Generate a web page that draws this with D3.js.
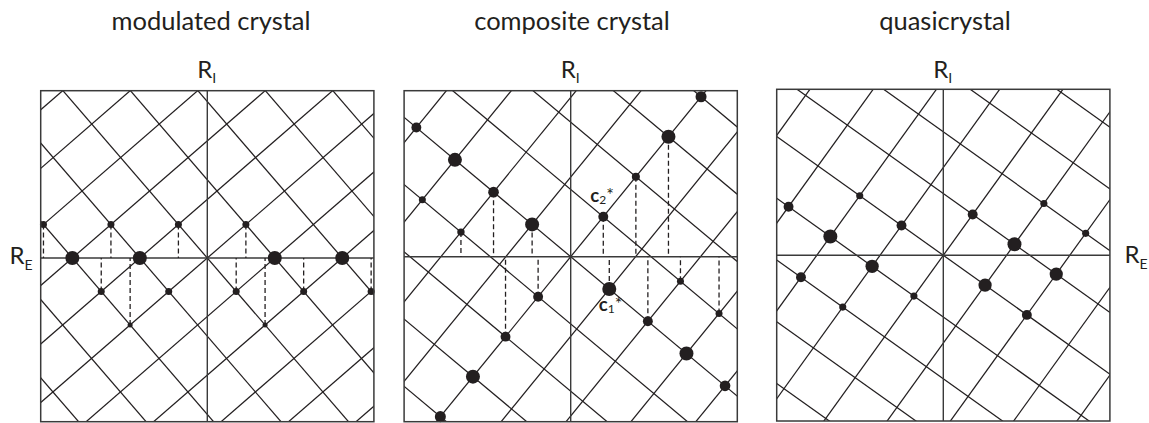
<!DOCTYPE html>
<html>
<head>
<meta charset="utf-8">
<script src="https://cdn.jsdelivr.net/npm/d3@7"></script>
<style>
  html, body { margin: 0; padding: 0; background: #fff; }
  svg { display: block; }
  text { font-family: Lato, "Open Sans", sans-serif; fill: #231f20; }
</style>
</head>
<body>
<svg id="chart" width="1149" height="423"></svg>
<script>
// ---- data -------------------------------------------------------------
// panel titles
const titles = ["modulated crystal", "composite crystal", "quasicrystal"];

// reciprocal basis vectors (R_E, R_I) in lattice units, one pair per panel
const basisModulated = [[1.158, 1.005], [0.867, -1.005]];
const basisComposite = [[1.158, -0.969], [0.978, 1.200]];
const basisQuasi     = [[1.254, -0.894], [0.882, 1.224]];

// reflections: [m, n, relative intensity, projection line to R_E (1/0)]
const reflModulated = [
  [1, 1, 1.0, 0], [2, 2, 1.0, 0], [-1, -1, 1.0, 0], [-2, -2, 1.0, 0],
  [1, 0, 0.25, 1], [0, -1, 0.25, 1], [-1, -2, 0.25, 1], [-2, -3, 0.25, 1],
  [0, 1, 0.25, 1], [-1, 0, 0.25, 0], [1, 2, 0.25, 1], [2, 3, 0.25, 1], [-2, -1, 0.25, 1],
  [0, 2, 0.13, 1], [-2, 0, 0.13, 1]
];
const reflComposite = [
  [1, 0, 1.0, 1], [2, 0, 0.5, 1], [3, 0, 1.0, 0], [4, 0, 0.58, 0],
  [-1, 0, 1.0, 1], [-2, 0, 0.58, 1], [-3, 0, 1.0, 0], [-4, 0, 0.5, 0],
  [0, 1, 0.5, 1], [0, 2, 0.33, 1], [0, 3, 1.0, 1], [0, 4, 0.62, 0],
  [0, -1, 0.5, 1], [0, -2, 0.5, 1], [0, -3, 1.0, 0], [0, -4, 0.62, 0],
  [2, 1, 0.25, 1], [3, 1, 0.25, 1], [-2, -1, 0.28, 1], [-3, -1, 0.25, 0]
];
const reflQuasi = [
  [1, 0, 0.9, 0], [-1, 0, 0.5, 0], [0, 1, 0.5, 0], [0, -1, 0.26, 0],
  [1, 1, 1.0, 0], [-1, -1, 0.9, 0], [2, 0, 0.5, 0], [-2, 0, 0.26, 0],
  [1, 2, 0.26, 0], [2, 2, 0.26, 0], [2, 1, 0.9, 0], [-3, -1, 0.5, 0],
  [-2, -1, 1.0, 0], [-2, -2, 0.5, 0], [-1, -2, 0.26, 0]
];

// labelled basis vectors of the composite panel: [m, n, symbol, index]
const vectorLabels = [[0, 1, "c", "2"], [1, 0, "c", "1"]];

// ---- layout -----------------------------------------------------------
const ink = "#231f20";
const half = 166.6;                 // half width of a panel frame in px
const panels = [
  { ox: 207.3, oy: 258.0, top: 90.7, bottom: 421.7, tx: 211, basis: basisModulated, refl: reflModulated },
  { ox: 570.7, oy: 256.7, top: 90.7, bottom: 421.7, tx: 572, basis: basisComposite, refl: reflComposite },
  { ox: 943.3, oy: 255.3, top: 89.3, bottom: 421.0, tx: 945, basis: basisQuasi, refl: reflQuasi }
];

const svg = d3.select("#chart");
const rScale = d3.scaleSqrt().domain([0, 1]).range([0, 7]);

panels.forEach((p, i) => {
  const x = d3.scaleLinear().domain([-5, 5]).range([p.ox - half, p.ox + half]);
  const y = d3.scaleLinear().domain([-5, 5]).range([p.oy + half, p.oy - half]);
  const [u, v] = p.basis;
  const pt = (m, n) => [m * u[0] + n * v[0], m * u[1] + n * v[1]];

  const g = svg.append("g");
  const clipId = "clip" + i;
  svg.append("clipPath").attr("id", clipId)
    .append("rect")
    .attr("x", x(-5)).attr("y", p.top)
    .attr("width", x(5) - x(-5)).attr("height", p.bottom - p.top);

  // lattice rows: lines along u through n*v and along v through m*u
  const idx = d3.range(-9, 10);
  const L = 14;
  const lines = [];
  idx.forEach(n => {
    const c = pt(0, n);
    lines.push([[c[0] - L * u[0], c[1] - L * u[1]], [c[0] + L * u[0], c[1] + L * u[1]]]);
  });
  idx.forEach(m => {
    const c = pt(m, 0);
    lines.push([[c[0] - L * v[0], c[1] - L * v[1]], [c[0] + L * v[0], c[1] + L * v[1]]]);
  });
  const gl = g.append("g").attr("clip-path", `url(#${clipId})`);
  gl.selectAll("line.lat").data(lines).join("line")
    .attr("class", "lat")
    .attr("x1", d => x(d[0][0])).attr("y1", d => y(d[0][1]))
    .attr("x2", d => x(d[1][0])).attr("y2", d => y(d[1][1]))
    .attr("stroke", ink).attr("stroke-width", 1.25);

  // physical (R_E) and internal (R_I) axes
  gl.append("line")
    .attr("x1", x(-5)).attr("x2", x(5)).attr("y1", y(0)).attr("y2", y(0))
    .attr("stroke", "#3a3a3a").attr("stroke-width", 1.4);
  gl.append("line")
    .attr("x1", x(0)).attr("x2", x(0)).attr("y1", p.top).attr("y2", p.bottom)
    .attr("stroke", "#3a3a3a").attr("stroke-width", 1.4);

  // projections of reflections onto R_E
  gl.selectAll("line.proj").data(p.refl.filter(d => d[3])).join("line")
    .attr("class", "proj")
    .attr("x1", d => x(pt(d[0], d[1])[0])).attr("x2", d => x(pt(d[0], d[1])[0]))
    .attr("y1", d => y(pt(d[0], d[1])[1])).attr("y2", y(0))
    .attr("stroke", ink).attr("stroke-width", 1.3)
    .attr("stroke-dasharray", "5,3");

  // reflections
  g.selectAll("circle").data(p.refl).join("circle")
    .attr("cx", d => x(pt(d[0], d[1])[0]))
    .attr("cy", d => y(pt(d[0], d[1])[1]))
    .attr("r", d => rScale(d[2]))
    .attr("fill", ink);

  // frame
  g.append("rect")
    .attr("x", x(-5)).attr("y", p.top)
    .attr("width", x(5) - x(-5)).attr("height", p.bottom - p.top)
    .attr("fill", "none").attr("stroke", "#3a3a3a").attr("stroke-width", 1.5);

  // title
  svg.append("text")
    .attr("x", p.tx).attr("y", 30)
    .attr("text-anchor", "middle")
    .attr("font-size", 25.5)
    .text(titles[i]);

  // R_I label
  const ri = svg.append("text")
    .attr("x", p.ox - 10).attr("y", 77.5)
    .attr("font-size", 24);
  ri.append("tspan").text("R");
  ri.append("tspan").attr("font-size", 14).attr("dy", 5).text("I");

  // vector labels in the composite panel
  if (i === 1) {
    vectorLabels.forEach(d => {
      const c = pt(d[0], d[1]);
      const above = d[1] > 0;
      const t = svg.append("text")
        .attr("x", x(c[0]) + (above ? -13 : -10.5))
        .attr("y", y(c[1]) + (above ? -15 : 22.5))
        .attr("font-size", 18.5);
      t.append("tspan").attr("font-weight", "bold").text(d[2]);
      t.append("tspan").attr("font-size", 12).attr("dy", 2).text(d[3]);
      t.append("tspan").attr("font-size", 18).attr("dy", -3).text("*");
    });
  }
});

// R_E labels on both outer sides
[[9.5, 263.5], [1124.5, 262.5]].forEach(([lx, ly]) => {
  const t = svg.append("text").attr("x", lx).attr("y", ly).attr("font-size", 24);
  t.append("tspan").text("R");
  t.append("tspan").attr("font-size", 14).attr("dy", 6).text("E");
});
</script>
</body>
</html>
